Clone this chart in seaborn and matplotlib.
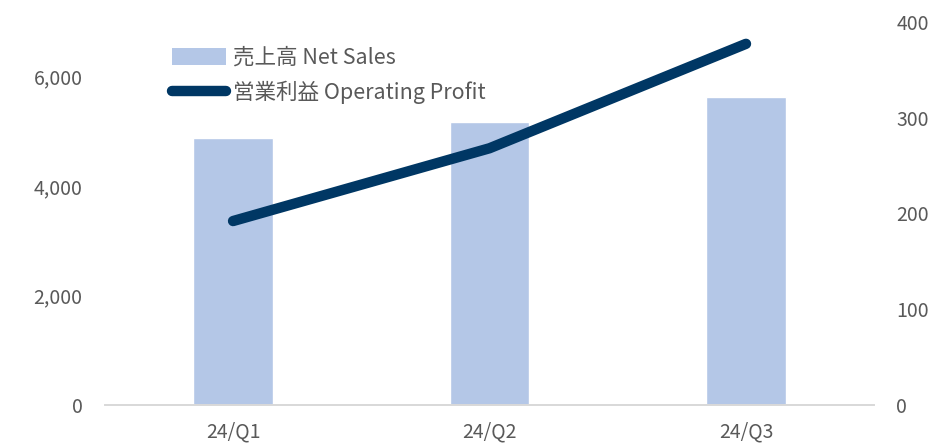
import numpy as np
import pandas as pd
import seaborn as sns
import matplotlib.pyplot as plt
from matplotlib.patches import Patch
from matplotlib.lines import Line2D
from matplotlib.ticker import FuncFormatter, FixedLocator

quarters = ['24/Q1', '24/Q2', '24/Q3']
net_sales = [4870, 5170, 5630]
operating_profit = [192, 268, 377]

sns.set_style('white')
plt.rcParams['font.family'] = ['Noto Sans CJK JP', 'DejaVu Sans']

bar_color = '#B4C7E7'
line_color = '#003764'
text_color = '#595959'

df = pd.DataFrame({'Quarter': quarters, 'Sales': net_sales, 'Profit': operating_profit})
pos = np.arange(len(quarters))

fig = plt.figure(figsize=(9.36, 4.45), dpi=100)
ax = fig.add_axes([0.112, 0.09, 0.822, 0.861])

sns.barplot(data=df, x='Quarter', y='Sales', color=bar_color, width=0.31,
            saturation=1, ax=ax)
ax.set_xlim(-0.5, len(quarters) - 0.5)
ax.set_ylim(0, 7000)
ax.set_yticks([0, 2000, 4000, 6000])
ax.yaxis.set_major_formatter(FuncFormatter(lambda v, p: f'{int(v):,}'))
ax.set_xlabel('')
ax.set_ylabel('')

ax2 = ax.twinx()
sns.lineplot(x=pos, y=df['Profit'], color=line_color, linewidth=7.5, ax=ax2,
             solid_capstyle='round', legend=False)
ax2.set_ylim(0, 400)
ax2.set_yticks([0, 100, 200, 300, 400])
ax2.set_ylabel('')

for a in (ax, ax2):
    for s in ['top', 'left', 'right']:
        a.spines[s].set_visible(False)
    a.spines['bottom'].set_color('#D9D9D9')
    a.spines['bottom'].set_linewidth(1.3)
    a.tick_params(axis='y', length=0, labelsize=14, labelcolor=text_color, pad=16)

ax.tick_params(axis='x', which='major', length=0, labelsize=14, labelcolor=text_color, pad=12)
ax.xaxis.set_minor_locator(FixedLocator(np.arange(len(quarters) + 1) - 0.5))
ax.tick_params(axis='x', which='minor', length=6, width=1.3, color='#D9D9D9', direction='out')

handles = [Patch(facecolor=bar_color, edgecolor='none'),
           Line2D([0], [0], color=line_color, linewidth=7.5, solid_capstyle='round')]
labels = ['売上高 Net Sales', '営業利益 Operating Profit']
leg = ax2.legend(handles, labels, loc='upper left', bbox_to_anchor=(0.062, 0.985),
                 frameon=False, fontsize=15.5, handlelength=2.5, handleheight=0.9,
                 handletextpad=0.35, labelspacing=0.55)
for t in leg.get_texts():
    t.set_color(text_color)

fig.savefig('out.png', dpi=100)
